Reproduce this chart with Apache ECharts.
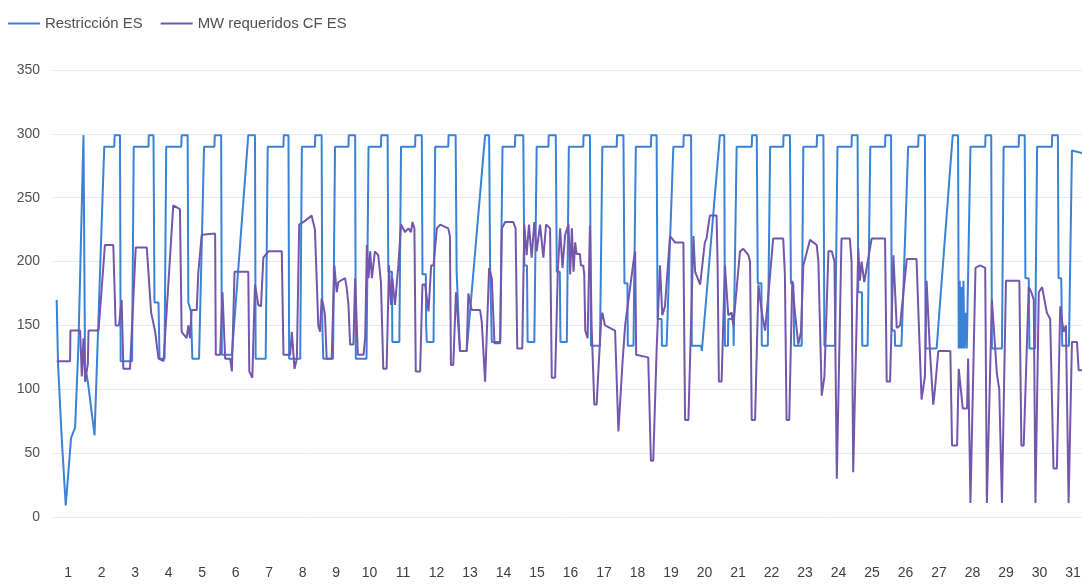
<!DOCTYPE html>
<html lang="es">
<head>
  <meta charset="UTF-8">
  <title>Restricción ES vs MW requeridos CF ES</title>
  <script src="https://cdn.jsdelivr.net/npm/echarts@6.0.0/dist/echarts.min.js"></script>
</head>
<body style="margin:0; background:#ffffff;">
<div id="main" style="width:1082px; height:586px;"></div>
<script>
  // x = day of month (fractional), y = MW
  var dayLabels = [1,2,3,4,5,6,7,8,9,10,11,12,13,14,15,16,17,18,19,20,21,22,23,24,25,26,27,28,29,30,31];

  var restriccionES = [
    [0.66,170],[0.70,120],[0.81,62],[0.93,9],[1.09,62],[1.21,70],[1.31,135],[1.46,299],[1.51,106],[1.55,112],[1.60,104],[1.79,64],[2.08,290],
    [2.38,290],[2.39,299],[2.55,299],[2.57,122],[2.91,122],[2.96,290],
    [3.40,290],[3.41,299],[3.55,299],[3.58,168],[3.70,168],[3.73,124],[3.88,124],[3.93,290],
    [4.38,290],[4.39,299],[4.57,299],[4.59,168],[4.67,161],[4.71,124],[4.91,124],[5.06,290],
    [5.37,290],[5.38,299],[5.57,299],[5.59,127],[5.89,127],[6.38,299],
    [6.58,299],[6.60,124],[6.90,124],[6.96,290],
    [7.43,290],[7.44,299],[7.58,299],[7.60,124],[7.93,124],[7.98,290],
    [8.37,290],[8.38,299],[8.57,299],[8.59,150],[8.62,124],[8.91,124],[8.97,290],
    [9.37,290],[9.38,299],[9.57,299],[9.59,124],[9.91,124],[9.97,290],
    [10.34,290],[10.35,299],[10.54,299],[10.56,192],[10.67,192],[10.68,137],[10.89,137],[10.94,290],
    [11.36,290],[11.37,299],[11.56,299],[11.58,190],[11.68,190],[11.69,150],[11.71,137],[11.91,137],[11.96,290],
    [12.35,290],[12.36,299],[12.57,299],[12.60,192],[12.65,192],[12.70,130],[12.90,130],[13.45,299],
    [13.57,299],[13.60,195],[13.64,195],[13.65,137],[13.90,137],[13.97,290],
    [14.34,290],[14.35,299],[14.59,299],[14.62,197],[14.70,197],[14.72,137],[14.92,137],[14.99,290],
    [15.34,290],[15.35,299],[15.56,299],[15.59,192],[15.68,192],[15.70,137],[15.89,137],[15.95,290],
    [16.38,290],[16.39,299],[16.58,299],[16.61,134],[16.88,134],[16.95,290],
    [17.38,290],[17.39,299],[17.58,299],[17.61,183],[17.70,183],[17.71,134],[17.88,134],[17.95,290],
    [18.40,290],[18.41,299],[18.57,299],[18.60,155],[18.72,155],[18.73,134],[18.87,134],[18.95,200],[19.07,290],
    [19.37,290],[19.38,299],[19.60,299],[19.62,134],[19.90,134],[19.92,130],[20.46,299],
    [20.59,299],[20.61,134],[20.70,134],[20.71,155],[20.86,155],[20.87,134],[20.90,134],[20.96,290],
    [21.41,290],[21.42,299],[21.56,299],[21.59,183],[21.70,183],[21.71,134],[21.89,134],[21.96,290],
    [22.35,290],[22.36,299],[22.55,299],[22.58,183],[22.65,183],[22.68,134],[22.90,134],[22.95,290],
    [23.35,290],[23.36,299],[23.55,299],[23.58,134],[23.90,134],[23.97,290],
    [24.39,290],[24.40,299],[24.57,299],[24.59,176],[24.70,176],[24.71,134],[24.87,134],[24.95,290],
    [25.39,290],[25.40,299],[25.57,299],[25.59,146],[25.68,146],[25.69,134],[25.88,134],[26.08,290],
    [26.38,290],[26.39,299],[26.58,299],[26.60,132],[26.93,132],[27.41,299],
    [27.57,299],[27.59,132],[27.62,185],[27.64,132],[27.67,180],[27.70,132],[27.73,185],[27.76,132],[27.80,160],[27.83,132],[27.88,132],[27.94,290],
    [28.38,290],[28.39,299],[28.56,299],[28.58,132],[28.88,132],[28.93,290],
    [29.38,290],[29.39,299],[29.56,299],[29.58,187],[29.68,187],[29.70,132],[29.87,132],[29.93,290],
    [30.37,290],[30.38,299],[30.55,299],[30.57,187],[30.65,187],[30.68,134],[30.88,134],[30.97,287],[31.27,285]
  ];

  var mwRequeridosCF = [
    [0.66,122],[1.06,122],[1.07,146],[1.36,146],[1.41,110],[1.46,140],[1.51,106],[1.59,120],[1.61,146],[1.91,146],
    [2.10,213],[2.35,213],[2.42,150],[2.52,150],[2.60,170],[2.65,116],[2.85,116],
    [3.02,211],[3.35,211],[3.48,160],[3.60,145],[3.70,124],[3.85,122],
    [4.14,244],[4.34,241],[4.39,145],[4.54,140],[4.59,150],[4.64,140],[4.69,162],[4.84,162],[4.89,192],
    [4.99,221],[5.39,222],[5.41,127],[5.54,127],[5.61,176],[5.69,124],[5.84,124],[5.89,114],
    [5.97,192],[6.38,192],[6.41,114],[6.50,109],[6.58,182],[6.68,166],[6.76,165],[6.83,203],
    [6.98,208],[7.38,208],[7.43,127],[7.63,127],[7.68,145],[7.76,116],[7.83,124],
    [7.90,229],[8.03,231],[8.27,236],[8.32,236],[8.37,225],[8.47,150],[8.52,145],[8.57,171],[8.62,166],[8.67,158],[8.72,124],[8.87,124],
    [8.95,197],[9.02,176],[9.07,184],[9.27,187],[9.32,179],[9.37,166],[9.42,135],[9.52,135],[9.57,187],[9.65,127],[9.82,127],[9.87,140],
    [9.92,213],[9.97,187],[10.02,208],[10.07,187],[10.16,208],[10.26,205],[10.34,184],[10.41,116],[10.51,116],
    [10.58,197],[10.64,166],[10.68,187],[10.76,166],[10.86,197],
    [10.94,229],[11.06,223],[11.16,226],[11.24,223],[11.28,231],[11.34,226],[11.38,114],[11.51,114],
    [11.58,182],[11.66,182],[11.76,161],[11.84,197],[11.91,197],
    [12.01,226],[12.11,229],[12.35,226],[12.40,220],[12.43,119],[12.50,119],[12.58,176],[12.65,150],[12.70,130],[12.90,130],
    [12.95,175],[13.05,162],[13.30,162],[13.35,153],[13.45,106],[13.50,106],[13.57,195],[13.65,187],[13.73,136],[13.90,136],
    [13.95,226],[14.05,231],[14.29,231],[14.36,226],[14.41,132],[14.56,132],
    [14.62,229],[14.69,205],[14.76,229],[14.84,203],[14.92,231],[14.99,208],[15.09,229],[15.19,203],[15.27,229],[15.39,226],
    [15.44,109],[15.54,109],[15.62,192],[15.69,226],[15.76,195],[15.84,221],
    [15.94,229],[15.99,190],[16.04,226],[16.09,192],[16.14,215],[16.18,206],[16.28,206],[16.31,197],[16.38,197],[16.41,190],
    [16.44,146],[16.51,140],[16.58,228],[16.63,150],[16.71,88],[16.78,88],
    [16.91,153],[16.95,160],[17.03,150],[17.33,146],[17.43,67],[17.55,120],[17.63,150],[17.88,200],[17.93,208],
    [17.96,127],[18.32,125],[18.40,44],[18.47,44],[18.57,130],[18.67,197],[18.74,158],[18.82,165],
    [18.97,220],[19.12,215],[19.37,215],[19.42,76],[19.52,76],[19.67,220],[19.72,192],[19.87,182],
    [20.01,215],[20.06,218],[20.16,236],[20.36,236],[20.39,200],[20.43,106],[20.51,106],
    [20.61,197],[20.71,158],[20.81,160],[20.86,150],
    [21.06,208],[21.16,210],[21.31,205],[21.36,200],[21.41,76],[21.51,76],[21.61,182],[21.71,160],[21.81,146],[21.91,175],
    [22.05,218],[22.35,218],[22.40,190],[22.45,76],[22.53,76],[22.62,185],[22.70,160],[22.80,135],[22.88,145],
    [22.95,197],[23.15,217],[23.35,213],[23.40,200],[23.50,95],[23.58,110],
    [23.70,208],[23.80,208],[23.88,200],[23.95,30],
    [24.09,218],[24.34,218],[24.39,200],[24.44,35],[24.59,210],[24.64,185],[24.69,200],[24.77,184],
    [24.99,218],[25.39,218],[25.44,106],[25.54,106],[25.64,205],[25.74,148],[25.84,150],
    [26.04,202],[26.33,202],[26.40,150],[26.48,92],[26.58,110],[26.63,185],[26.73,130],[26.83,88],[26.88,100],
    [26.98,130],[27.34,130],[27.39,56],[27.54,56],[27.59,116],[27.71,85],[27.84,85],[27.87,124],[27.94,11],
    [28.09,195],[28.23,197],[28.38,195],[28.43,11],[28.58,170],[28.73,112],[28.80,100],[28.88,11],
    [29.00,185],[29.40,185],[29.46,56],[29.53,56],[29.68,180],[29.76,176],[29.83,170],[29.88,11],
    [29.98,176],[30.08,180],[30.22,160],[30.32,155],[30.42,38],[30.52,38],[30.62,165],[30.72,145],[30.79,150],[30.87,11],
    [30.97,137],[31.12,137],[31.17,115],[31.27,115]
  ];

  var yTicks = { min: 0, max: 350, step: 50 };

  var chart = echarts.init(document.getElementById('main'), null, { renderer: 'canvas' });

  chart.setOption({
    animation: false,
    backgroundColor: '#ffffff',
    legend: {
      left: 3,
      top: 11,
      itemWidth: 32,
      itemHeight: 2,
      itemGap: 18,
      icon: 'rect',
      textStyle: { fontFamily: 'Liberation Sans, Arial, sans-serif', fontSize: 14.9, color: '#505050' },
      data: ['Restricción ES', 'MW requeridos CF ES']
    },
    grid: { left: 53, right: 0, top: 70, bottom: 69, containLabel: false, outerBoundsMode: 'none' },
    xAxis: {
      type: 'value',
      min: 0.55,
      max: 31.27,
      axisLine: { show: false },
      axisTick: { show: false },
      splitLine: { show: false },
      axisLabel: {
        customValues: dayLabels,
        margin: 49,
        fontFamily: 'Liberation Sans, Arial, sans-serif',
        fontSize: 14,
        color: '#404040'
      }
    },
    yAxis: {
      type: 'value',
      min: yTicks.min,
      max: yTicks.max,
      interval: yTicks.step,
      axisLine: { show: false },
      axisTick: { show: false },
      splitLine: { lineStyle: { color: '#e8e8f2', width: 1 } },
      axisLabel: {
        margin: 13,
        fontFamily: 'Liberation Sans, Arial, sans-serif',
        fontSize: 14,
        color: '#505050'
      }
    },
    series: [
      {
        name: 'Restricción ES',
        type: 'line',
        showSymbol: false,
        data: restriccionES,
        itemStyle: { color: '#3a82d8' },
        lineStyle: { color: '#3a82d8', width: 2 }
      },
      {
        name: 'MW requeridos CF ES',
        type: 'line',
        showSymbol: false,
        data: mwRequeridosCF,
        itemStyle: { color: '#7456ad' },
        lineStyle: { color: '#7456ad', width: 2 }
      }
    ]
  });
</script>
</body>
</html>
